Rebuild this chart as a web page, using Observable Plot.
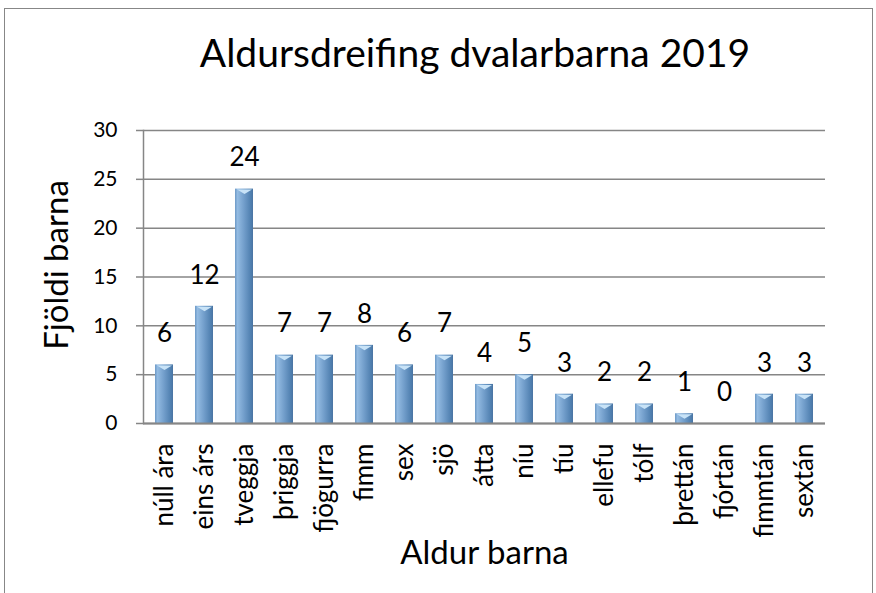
<!DOCTYPE html>
<html>
<head>
<meta charset="utf-8">
<script src="https://cdn.jsdelivr.net/npm/d3@7"></script>
<script src="https://cdn.jsdelivr.net/npm/@observablehq/plot@0.6"></script>
<style>
  html, body { margin: 0; padding: 0; background: #fff; }
  #chart { position: relative; width: 876px; height: 593px; overflow: hidden; font-family: Lato, sans-serif; }
  #frame { position: absolute; left: 4px; top: 8px; width: 869px; height: 640px; border: 1.5px solid #878787; box-sizing: border-box; }
  #title { position: absolute; left: 0; top: 29px; width: 950px; text-align: center; font-size: 39px; line-height: 46px; color: #000; }
  #plot { position: absolute; left: 0; top: 0; }
</style>
</head>
<body>
<div id="chart">
  <div id="frame"></div>
  <div id="title">Aldursdreifing dvalarbarna 2019</div>
  <div id="plot"></div>
</div>
<script>
const categories = ["núll ára","eins árs","tveggja","þriggja","fjögurra","fimm","sex","sjö","átta","níu","tíu","ellefu","tólf","þrettán","fjórtán","fimmtán","sextán"];
const counts = [6,12,24,7,7,8,6,7,4,5,3,2,2,1,0,3,3];
const yTicks = [0,5,10,15,20,25,30];
const yLabel = "Fjöldi barna";
const xLabel = "Aldur barna";

const data = categories.map((c, i) => ({age: c, n: counts[i]}));

const bevel = {
  draw(ctx, size) {
    const r = Math.sqrt(size / Math.PI);
    ctx.moveTo(-r, 0);
    ctx.lineTo(r, 0);
    ctx.lineTo(0, r * 0.6);
    ctx.closePath();
  }
};

const gray = "#868686";

const chart = Plot.plot({
  width: 876,
  height: 593,
  marginLeft: 143,
  marginRight: 51,
  marginTop: 130,
  marginBottom: 170,
  style: {fontFamily: "Lato, sans-serif", background: "transparent", color: "#000"},
  x: {domain: categories, paddingInner: 0.55, paddingOuter: 0.275, label: null},
  y: {domain: [0, 30], label: null},
  marks: [
    Plot.gridY(yTicks, {stroke: gray, strokeOpacity: 1, strokeWidth: 1.5}),
    Plot.frame({anchor: "left", stroke: gray, strokeWidth: 1.5}),
    Plot.barY(data, {x: "age", y: "n", fill: "url(#barGrad)"}),
    Plot.dot(data.filter(d => d.n > 0), {x: "age", y: "n", symbol: bevel, r: 7.5, fill: "#c8e3f7", stroke: "none", dy: 0.5}),
    Plot.ruleY([0], {stroke: gray, strokeWidth: 2}),
    Plot.text(data, {x: "age", y: "n", text: d => String(d.n), dy: -31, fontSize: 26, fill: "#000"}),
    Plot.axisY({ticks: yTicks, tickSize: 7, tickPadding: 19, fontSize: 21, stroke: gray, strokeWidth: 1.5, label: null}),
    Plot.axisX({tickSize: 0, tickPadding: 20, tickRotate: -90, fontSize: 26, label: null}),
    Plot.text([yLabel], {frameAnchor: "left", rotate: -90, dx: -86, dy: -12, fontSize: 33, textAnchor: "middle", fill: "#000"}),
    Plot.text([xLabel], {frameAnchor: "bottom", dy: 140, fontSize: 33, textAnchor: "middle", fill: "#000"})
  ]
});

d3.select(chart).insert("defs", ":first-child").html(`
  <linearGradient id="barGrad" x1="0" x2="1" y1="0" y2="0">
    <stop offset="0" stop-color="#6d99c6"/>
    <stop offset="0.14" stop-color="#93bbe2"/>
    <stop offset="0.5" stop-color="#729ecb"/>
    <stop offset="0.88" stop-color="#5080b0"/>
    <stop offset="1" stop-color="#4a74a2"/>
  </linearGradient>`);

document.getElementById("plot").appendChild(chart);
</script>
</body>
</html>
